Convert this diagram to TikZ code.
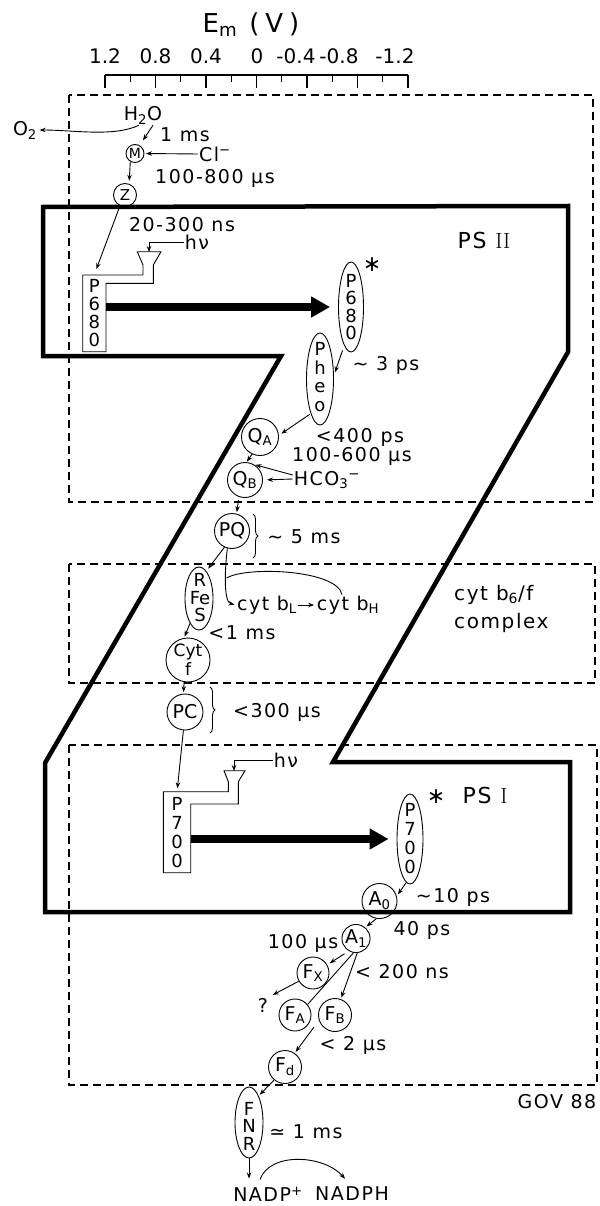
\documentclass[tikz,border=0pt]{standalone}
\usepackage{fontspec}
\newfontfamily\lf[LetterSpace=8]{DejaVu Sans}
\newfontfamily\lfs{DejaVu Sans}
\usetikzlibrary{arrows.meta,shapes.geometric,decorations.pathreplacing}
\tikzset{
  lbl/.style={font=\lf\fontsize{19}{21}\selectfont, inner sep=1pt},
  axl/.style={font=\lfs\fontsize{20}{20}\selectfont, inner sep=1pt},
  arr/.style={line width=0.9pt, -{Stealth[length=6pt,width=4.5pt]}, shorten >=1.5pt},
  thinl/.style={line width=0.9pt},
  cnode/.style={circle, draw, line width=0.9pt, inner sep=0pt, minimum size=#1, font=\lfs\fontsize{19}{19}\selectfont},
  enode/.style 2 args={ellipse, draw, line width=0.9pt, inner sep=0pt, minimum width=#1, minimum height=#2},
  stk/.style={font=\lfs\fontsize{18}{#1}\selectfont, align=center, inner sep=0pt},
  dbox/.style={line width=1.2pt, dash pattern=on 8pt off 5pt},
  zline/.style={line width=4.5pt, line join=miter},
  bigarr/.style={line width=8pt, -{Triangle[length=19pt,width=20pt]}},
  brc/.style={decorate, decoration={brace, amplitude=5pt}, line width=0.9pt},
  tickl/.style={line width=1.2pt},
  starl/.style={font=\lfs\fontsize{22}{22}\selectfont, inner sep=0pt},
}
\begin{document}
\begin{tikzpicture}[x=1pt,y=-1pt]
\useasboundingbox (0,0) rectangle (599,1206);
% ---------- axis ----------
\node[font=\lfs\fontsize{26}{26}\selectfont, inner sep=1pt] (title) at (251,25) {E\textsubscript{m}\hspace{12pt}(\hspace{6pt}V\hspace{6pt})};
\draw[tickl] (105,75) -- (408,75);
\foreach \i in {0,2,...,12} {\draw[tickl] (105+25.25*\i,75) -- ++(0,13);}
\foreach \i in {1,3,...,11} {\draw[tickl] (105+25.25*\i,75) -- ++(0,7);}
\node[axl] (ax1) at (105,56) {1.2};
\node[axl] (ax2) at (155.5,56) {0.8};
\node[axl] (ax3) at (206,56) {0.4};
\node[axl] (ax4) at (257,56) {0};
\node[axl] (ax5) at (296,56) {-0.4};
\node[axl] (ax6) at (339,56) {-0.8};
\node[axl] (ax7) at (395,56) {-1.2};
% ---------- dashed boxes ----------
\draw[dbox] (69,95) rectangle (593,502);
\draw[dbox] (69,564) rectangle (595,683);
\draw[dbox] (69,745) rectangle (597,1085);
% ---------- Z outline ----------
\draw[zline] (43,207) -- (568,206) -- (568,352) -- (333,762) -- (570,762) -- (570,912) -- (45,912) -- (45,763) -- (281,356) -- (43,356) -- cycle;
% ---------- water side ----------
\node[lbl] (h2o) at (143,115) {H\textsubscript{2}O};
\node[lbl] (o2) at (25,130) {O\textsubscript{2}};
\node[lbl] (t1ms) at (185,135) {1 ms};
\node[cnode=18, font=\lfs\fontsize{14}{14}\selectfont] (m) at (135,153.5) {M};
\node[lbl] (cl) at (215,154) {Cl\textsuperscript{−}};
\node[lbl] (t100800) at (215,178) {100-800 μs};
\node[cnode=23, font=\lfs\fontsize{15}{15}\selectfont] (z) at (125,195) {Z};
\node[lbl] (t20300) at (182,225) {20-300 ns};
% ---------- PS II ----------
\draw[thinl] (82.7,275) -- (143,275) -- (143,265) -- (137.3,251.7) -- (161,251.7) -- (153.3,265) -- (153.3,283.3) -- (106,283.3) -- (106,351.7) -- (82.7,351.7) -- cycle;
\node[stk=18, minimum width=23, minimum height=77] (p680) at (94.3,313.3) {P\\6\\8\\0};
\coordinate (fun1) at (149,252);
\node[lbl] (hv1) at (197,242) {hν};
\node[enode={25}{90}] (p680s) at (351,307) {};
\node[stk=17.5] (p680st) at (351,307) {P\\6\\8\\0};
\node[starl] (star1) at (372,265) {∗};
\node[font=\lf\fontsize{22}{22}\selectfont, inner sep=1pt] (ps2) at (484,240) {PS {\rmfamily II}};
\node[enode={27}{92}] (pheo) at (320,379) {};
\node[stk=18.5] (pheost) at (320,377) {P\\h\\e\\o};
\node[lbl] (t3ps) at (386,365) {∼ 3 ps};
\node[cnode=37] (qa) at (260,437) {Q\textsubscript{A}};
\node[lbl] (t400) at (360,437) {<400\hspace{8pt}ps};
\node[lbl] (t100600) at (352,456) {100-600 μs};
\node[cnode=35] (qb) at (245,480) {Q\textsubscript{B}};
\node[lbl] (hco) at (327,480) {HCO\textsubscript{3}\textsuperscript{−}};
% ---------- cyt b6/f ----------
\node[cnode=35] (pq) at (232,531) {PQ};
\node[lbl] (t5ms) at (304,537) {∼ 5 ms};
\node[enode={28}{63}] (rfes) at (199,598.5) {};
\node[stk=17.5] (rfesst) at (200,598) {R\\Fe\\S};
\node[lbl] (cytbL) at (267,605) {cyt b\textsubscript{L}};
\node[lbl] (cytbH) at (348,605) {cyt b\textsubscript{H}};
\coordinate (qm) at (226.6,578);
\node[lbl] (t1ms2) at (242,633) {<1 ms};
\node[cnode=44, align=center, font=\lfs\fontsize{17}{19}\selectfont] (cytf) at (188,660) {Cyt\\f};
\node[cnode=36] (pc) at (185,712) {PC};
\node[lbl] (t300) at (277,712) {<300 μs};
\node[font=\lf\fontsize{20}{28}\selectfont, inner sep=1pt, align=left, anchor=west] (cytbf) at (453,609) {cyt b\textsubscript{6}/f\\complex};
% ---------- PS I ----------
\draw[thinl] (163.3,791.7) -- (228.3,791.7) -- (228.3,781.7) -- (224,770.7) -- (245,770.7) -- (238.3,781.7) -- (238.3,804) -- (190.7,804) -- (190.7,872.7) -- (163.3,872.7) -- cycle;
\node[stk=19, minimum width=28, minimum height=81] (p700) at (177,833) {P\\7\\0\\0};
\coordinate (fun2) at (234,771);
\node[lbl] (hv2) at (286,760) {hν};
\node[enode={26}{90}] (p700s) at (410,839) {};
\node[stk=19] (p700st) at (410,839) {P\\7\\0\\0};
\node[starl] (star2) at (436,797) {∗};
\node[font=\lf\fontsize{22}{22}\selectfont, inner sep=1pt] (ps1) at (485,795) {PS {\rmfamily I}};
\node[cnode=35] (a0) at (379.5,901) {A\textsubscript{0}};
\node[lbl] (t10ps) at (453,897) {∼10 ps};
\node[cnode=28] (a1) at (356,938.5) {A\textsubscript{1}};
\node[lbl] (t40ps) at (422,930) {40 ps};
\node[lbl] (t100us) at (303,943) {100 μs};
\node[cnode=32] (fx) at (313,973) {F\textsubscript{X}};
\node[lbl] (q) at (263,1005) {?};
\node[cnode=32] (fa) at (295,1015) {F\textsubscript{A}};
\node[cnode=33] (fb) at (335,1015) {F\textsubscript{B}};
\coordinate (fafb) at (314,1027);
\node[lbl] (t200) at (402,972) {< 200 ns};
\node[lbl] (t2us) at (353,1045) {< 2 μs};
\node[cnode=33] (fd) at (285,1067) {F\textsubscript{d}};
\node[enode={28}{71}] (fnr) at (249,1122.5) {};
\node[stk=17.5] (fnrst) at (249,1126) {F\\N\\R};
\node[lbl] (t1ms3) at (306,1132) {≃ 1 ms};
\node[lbl] (gov) at (557,1102) {GOV 88};
\node[lbl] (nadp) at (268,1194) {NADP\textsuperscript{+}};
\node[lbl] (nadph) at (352,1194) {NADPH};
\coordinate (nadptop) at (249,1180);
% ---------- connectors ----------
\draw[arr] ([xshift=-4pt]h2o.south) .. controls +(-25,12) and +(35,0) .. (o2.east);
\draw[arr, shorten >=6pt] ([xshift=10pt]h2o.south) -- (m.60);
\draw[arr] (cl.west) -- (m.east);
\draw[arr, shorten >=3pt] (m.-120) -- (z.70);
\draw[arr, shorten >=6pt] (z.-115) -- (p680.north);
\draw[arr, shorten >=0pt] (hv1.west) -| (fun1);
\draw[bigarr, shorten >=8pt] (p680.east |- p680s.west) -- (p680s.west);
\draw[arr, shorten <=5pt, shorten >=3pt] (p680s.-100) -- (pheo.15);
\draw[arr, shorten <=1pt, shorten >=3pt] (pheo.-105) -- (qa.5);
\draw[arr, shorten >=0.5pt] (qa.-115) -- (qb.85);
\draw[arr] ([yshift=5pt]hco.west) -- (qb.60);
\draw[arr, shorten >=4pt] ([yshift=1pt]hco.west) -- (qb.0);
\draw[arr, shorten <=3pt] (qb.-110) -- (pq.75);
\draw[brc] (253,514) -- (253,558);
\draw[arr, shorten >=3pt] (pq.-115) -- (rfes.75);
\draw[arr] (pq.-105) .. controls +(-3,25) and +(-12,-3) .. (cytbL.west);
\draw[thinl] ([xshift=-6pt]cytbH.north) .. controls +(-5,-25) and +(20,-12) .. (qm);
\draw[arr] (cytbL.east) -- (cytbH.west);
\draw[arr] (rfes.-110) -- (cytf.100);
\draw[arr] (cytf.-100) -- (pc.95);
\draw[brc] (210,687) -- (210,733);
\draw[arr, shorten >=4pt] (pc.-95) -- (p700.north);
\draw[arr, shorten >=0pt] (hv2.west) -| (fun2);
\draw[bigarr, shorten >=8pt] (p700.east |- p700s.west) -- (p700s.west);
\draw[arr, shorten >=2pt] (p700s.-95) -- (a0.16);
\draw[arr] (a0.-100) -- (a1.50);
\draw[arr, shorten <=5pt, shorten >=3pt] (a1.-120) -- (fx.30);
\draw[arr] (a1.-85) -- (fb.70);
\draw[thinl] (fa.40) -- (a1.-100);
\draw[arr, shorten >=4pt] (fx.-150) -- (q.north east);
\draw[arr] (fafb) -- (fd.55);
\draw[arr] (fd.-130) -- (fnr.70);
\draw[arr] (fnr.south) -- (nadptop);
\draw[arr] ([xshift=-8pt,yshift=6pt]nadp.north) .. controls +(10,-28) and +(-22,-25) .. ([xshift=-6pt,yshift=6pt]nadph.north);
\end{tikzpicture}
\end{document}
